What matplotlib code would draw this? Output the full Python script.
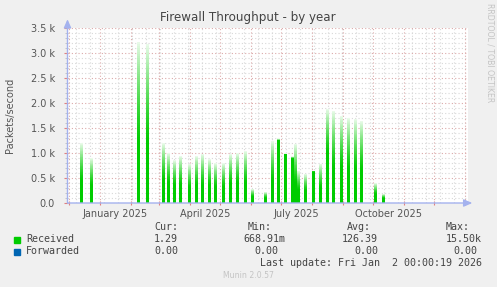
import numpy as np
import pandas as pd
import matplotlib
matplotlib.use("Agg")
import matplotlib.pyplot as plt
import matplotlib.dates as mdates
from matplotlib.patches import Rectangle
from matplotlib.ticker import FixedLocator, FuncFormatter, MultipleLocator

# === data ===
spike_dates = [
    "2024-12-12 12:00", "2024-12-22 12:00", "2025-02-08", "2025-02-17",
    "2025-03-04 12:00", "2025-03-09 12:00", "2025-03-15 12:00", "2025-03-22",
    "2025-03-30 12:00", "2025-04-07", "2025-04-13", "2025-04-19 12:00",
    "2025-04-26", "2025-05-04", "2025-05-11", "2025-05-18",
    "2025-05-25 12:00", "2025-06-02", "2025-06-14 12:00", "2025-06-22",
    "2025-06-28", "2025-07-05", "2025-07-12", "2025-07-14 12:00",
    "2025-07-18", "2025-07-25", "2025-08-02", "2025-08-09",
    "2025-08-15 12:00", "2025-08-22", "2025-08-29 12:00", "2025-09-05 12:00",
    "2025-09-13", "2025-09-19", "2025-10-03", "2025-10-11",
]
# peak value of each spike (packets/s)
spike_peak = [
    1200, 900, 3220, 3170,
    1200, 1000, 850, 930,
    770, 930, 970, 870,
    800, 800, 970, 1000,
    1030, 270, 220, 1230,
    1300, 1000, 930, 1170,
    630, 570, 630, 770,
    1870, 1830, 1730, 1700,
    1670, 1630, 400, 170,
]
# height up to which the spike is fully saturated
spike_solid = [
    450, 350, 1200, 1200,
    450, 400, 350, 350,
    300, 350, 350, 350,
    320, 320, 380, 400,
    400, 120, 100, 450,
    1250, 980, 880, 400,
    260, 240, 620, 300,
    1000, 700, 700, 680,
    650, 650, 180, 90,
]

series_names = ["Received", "Forwarded"]
series_colors = ["#00cc00", "#0066b3"]
cur_vals = ["1.29", "0.00"]
min_vals = ["668.91m", "0.00"]
avg_vals = ["126.39", "0.00"]
max_vals = ["15.50k", "0.00"]

x_start = pd.Timestamp("2024-11-29 06:00")
x_end = x_start + pd.Timedelta(days=400)
label_dates = ["2025-01-16", "2025-04-16", "2025-07-16", "2025-10-16"]
label_texts = ["January 2025", "April 2025", "July 2025", "October 2025"]

W, H = 497, 287
BG = "#f0f0f0"
AXIS = "#a4b2ee"
MGRID = "#dcaaaa"
GRID = "#d8d8d8"
TXT = "#555555"

fig = plt.figure(figsize=(W / 100, H / 100), dpi=100, facecolor=BG)
ax = fig.add_axes([67.5 / W, 1 - 203 / H, 400 / W, 175 / H])
ax.set_facecolor("white")

def fx(x):
    return x / W

def fy(y):
    return 1 - y / H

# === grid ===
for y in np.arange(0, 3501, 100):
    if y % 500 == 0:
        continue
    ax.axhline(y, color=GRID, lw=0.8, ls=(0, (1, 2)), zorder=1)
for d in pd.date_range("2024-12-08", x_end, freq="14D"):
    ax.axvline(mdates.date2num(d), color=GRID, lw=0.8, ls=(0, (1, 2)), zorder=1)
for y in np.arange(500, 3501, 500):
    ax.axhline(y, color=MGRID, lw=0.8, ls=(0, (1, 2)), zorder=2)
for d in pd.date_range("2024-12-01", x_end, freq="MS"):
    ax.axvline(mdates.date2num(d), color=MGRID, lw=0.8, ls=(0, (1, 2)), zorder=2)

# === spikes with vertical fade ===
base = np.array([0, 204, 0]) / 255.0
pale = np.array([232, 250, 232]) / 255.0
width = 2.1  # days
n = 80
for d, pk, so in zip(spike_dates, spike_peak, spike_solid):
    xc = mdates.date2num(pd.Timestamp(d))
    h = np.linspace(0, pk, n)
    t = np.clip((h - so) / max(pk - so, 1), 0, 1) ** 1.3
    col = base[None, :] * (1 - t[:, None]) + pale[None, :] * t[:, None]
    # two columns so the resampler keeps the full width
    img = np.ones((n, 2, 4))
    img[:, :, :3] = col[:, None, :]
    ax.imshow(img, origin="lower", aspect="auto", interpolation="nearest",
              extent=[xc - width / 2, xc + width / 2, 0, pk], zorder=3)

ax.set_xlim(mdates.date2num(x_start), mdates.date2num(x_end))
ax.set_ylim(0, 3500)

# === ticks ===
for s in ax.spines.values():
    s.set_visible(False)
ax.yaxis.set_major_locator(MultipleLocator(500))
ax.yaxis.set_minor_locator(MultipleLocator(100))
ax.yaxis.set_major_formatter(FuncFormatter(
    lambda v, p: "0.0" if v == 0 else f"{v / 1000:.1f} k"))
ax.tick_params(axis="y", which="major", length=3, width=0.8, color="#e08080",
               labelsize=7, labelcolor=TXT, pad=6)
ax.tick_params(axis="y", which="minor", length=2, width=0.6, color="#c0c0c0")

month_ticks = [mdates.date2num(d) for d in pd.date_range("2024-12-01", x_end, freq="MS")]
ax.xaxis.set_major_locator(FixedLocator(month_ticks))
ax.xaxis.set_major_formatter(FuncFormatter(lambda v, p: ""))
ax.tick_params(axis="x", which="major", length=3, width=0.8, color="#e08080", direction="inout")
ax.set_xticks([mdates.date2num(pd.Timestamp(d)) for d in label_dates], labels=label_texts, minor=True)
ax.tick_params(axis="x", which="minor", length=0, labelsize=7, labelcolor=TXT, pad=4)

# axis arrows
for tip in [(1.012, 0), (0, 1.05)]:
    ax.annotate("", xy=tip, xytext=(0, 0), xycoords="axes fraction",
                arrowprops=dict(arrowstyle="-|>,head_length=0.5,head_width=0.22",
                                color=AXIS, lw=1.0, shrinkA=0, shrinkB=0),
                annotation_clip=False, zorder=5)

# === text ===
fig.text(fx(248), fy(18), "Firewall Throughput - by year", ha="center", va="center",
         fontsize=8.6, color="#444444")
fig.text(fx(10), fy(115), "Packets/second", rotation=90, ha="center", va="center",
         fontsize=7, color=TXT)
fig.text(fx(490), fy(53), "RRDTOOL / TOBI OETIKER", rotation=270, ha="center",
         va="center", fontsize=5.6, color="#c4c4c4")

mono = dict(family="DejaVu Sans Mono", fontsize=7.2, color="#444444", va="center")
for xr, lab in zip([178, 272, 371, 470], ["Cur:", "Min:", "Avg:", "Max:"]):
    fig.text(fx(xr), fy(227.5), lab, ha="right", **mono)
for i, name in enumerate(series_names):
    yy = 239.5 + 12 * i
    fig.patches.append(Rectangle((fx(14), fy(yy + 3)), 6 / W, 6 / H,
                                 transform=fig.transFigure, color=series_colors[i]))
    fig.text(fx(26), fy(yy), name, ha="left", **mono)
    fig.text(fx(178), fy(yy), cur_vals[i], ha="right", **mono)
    fig.text(fx(285 if i == 0 else 278), fy(yy), min_vals[i], ha="right", **mono)
    fig.text(fx(378), fy(yy), avg_vals[i], ha="right", **mono)
    fig.text(fx(482 if i == 0 else 477), fy(yy), max_vals[i], ha="right", **mono)
fig.text(fx(482), fy(263.5), "Last update: Fri Jan  2 00:00:19 2026", ha="right", **mono)
fig.text(fx(248), fy(276), "Munin 2.0.57", ha="center", va="center",
         fontsize=5.6, color="#c4c4c4")

fig.savefig("out.png", dpi=100, facecolor=BG)
